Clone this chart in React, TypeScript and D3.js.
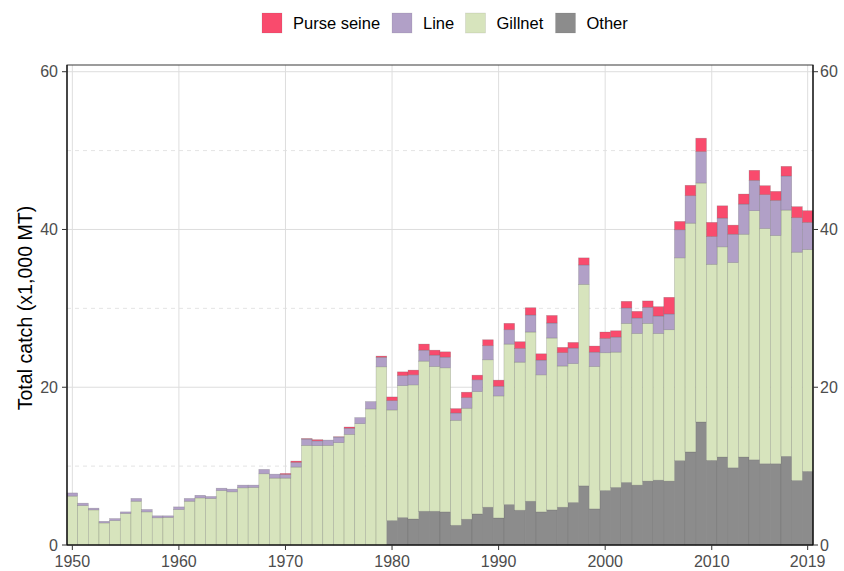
import React from "react";
import * as d3 from "d3";

const years = d3.range(1950, 2020);

const other = [
  0, 0, 0, 0, 0, 0, 0, 0, 0, 0,
  0, 0, 0, 0, 0, 0, 0, 0, 0, 0,
  0, 0, 0, 0, 0, 0, 0, 0, 0, 0,
  3.1, 3.48, 3.3, 4.28, 4.28, 4.2, 2.5, 3.27, 3.94, 4.79,
  3.43, 5.13, 4.41, 5.55, 4.2, 4.45, 4.79, 5.39, 7.5, 4.58,
  6.91, 7.3, 7.93, 7.59, 8.1, 8.22, 8.1, 10.7, 11.8, 15.6,
  10.73, 11.15, 9.79, 11.15, 10.8, 10.3, 10.3, 11.24, 8.18, 9.33,
];

const gillnet = [
  6.2, 5.0, 4.45, 2.8, 3.1, 4.0, 5.55, 4.2, 3.45, 3.5,
  4.5, 5.55, 5.97, 5.9, 6.9, 6.74, 7.25, 7.3, 9.03, 8.48,
  8.48, 9.88, 12.63, 12.59, 12.63, 12.97, 14.03, 15.38, 17.25, 22.59,
  14.02, 16.72, 17.0, 19.03, 18.35, 18.26, 13.31, 14.07, 15.51, 18.69,
  15.47, 20.34, 18.77, 21.45, 17.37, 21.79, 17.9, 17.61, 25.55, 18.05,
  17.46, 17.15, 20.17, 19.23, 20.0, 18.6, 19.19, 25.7, 29.0, 30.29,
  24.86, 26.65, 26.02, 28.25, 31.58, 29.83, 28.94, 31.22, 28.94, 28.13,
];

const line = [
  0.4, 0.3, 0.22, 0.2, 0.25, 0.2, 0.35, 0.3, 0.25, 0.2,
  0.33, 0.35, 0.33, 0.25, 0.3, 0.34, 0.34, 0.29, 0.55, 0.5,
  0.47, 0.59, 0.8, 0.61, 0.67, 0.72, 0.77, 0.77, 0.93, 1.21,
  1.18, 1.28, 1.27, 1.39, 1.44, 1.36, 0.93, 1.35, 1.49, 1.78,
  1.23, 1.82, 1.74, 2.16, 1.87, 1.9, 1.69, 1.96, 2.45, 1.82,
  1.82, 1.91, 1.95, 1.96, 2.03, 2.21, 2.0, 3.56, 3.48, 3.99,
  3.52, 3.64, 3.59, 3.82, 3.85, 4.28, 4.45, 4.32, 4.37, 3.44,
];

const purseSeine = [
  0, 0, 0, 0, 0, 0, 0, 0, 0, 0,
  0, 0, 0, 0, 0, 0, 0, 0, 0, 0,
  0.12, 0.17, 0.05, 0.15, 0, 0.03, 0.16, 0, 0, 0.15,
  0.47, 0.47, 0.6, 0.77, 0.63, 0.67, 0.55, 0.68, 0.59, 0.76,
  0.77, 0.81, 0.85, 0.92, 0.8, 0.96, 0.67, 0.72, 0.9, 0.77,
  0.81, 0.8, 0.84, 0.84, 0.81, 1.18, 2.11, 1.06, 1.32, 1.69,
  1.79, 1.56, 1.15, 1.27, 1.27, 1.14, 1.14, 1.22, 1.4, 1.48,
];

const gearKeys = ["Other", "Gillnet", "Line", "Purse seine"];
const gearColors: Record<string, string> = {
  "Purse seine": "#F94B6D",
  Line: "#B1A0C7",
  Gillnet: "#D7E4BD",
  Other: "#8C8C8C",
};

const xTicks = [1950, 1960, 1970, 1980, 1990, 2000, 2010, 2019];
const yMajor = [0, 20, 40, 60];
const yMinor = [10, 30, 50];

const W = 844;
const H = 571;
const margin = { top: 65, right: 31, bottom: 26, left: 67 };
const FONT = "'Liberation Sans', Arial, sans-serif";

export default function App() {
  const rows = years.map((yr, i) => ({
    year: yr,
    Other: other[i],
    Gillnet: gillnet[i],
    Line: line[i],
    "Purse seine": purseSeine[i],
  }));

  const series = d3.stack<any>().keys(gearKeys)(rows);

  const x = d3
    .scaleLinear()
    .domain([1949.5, 2019.5])
    .range([margin.left, W - margin.right]);
  const y = d3
    .scaleLinear()
    .domain([0, 60.85])
    .range([H - margin.bottom, margin.top]);

  const x0 = margin.left;
  const x1 = W - margin.right;
  const y0 = H - margin.bottom;
  const y1 = margin.top;

  // legend positions
  const legendItems = [
    { key: "Purse seine", x: 262 },
    { key: "Line", x: 392 },
    { key: "Gillnet", x: 465.5 },
    { key: "Other", x: 555.5 },
  ];

  return (
    <svg
      width={W}
      height={H}
      style={{ position: "absolute", left: 0, top: 0, background: "#fff" }}
      fontFamily={FONT}
    >
      {/* grid */}
      {yMinor.map((v) => (
        <line key={"mn" + v} x1={x0} x2={x1} y1={y(v)} y2={y(v)} stroke="#DDDDDD" strokeWidth={0.8} strokeDasharray="4,4" />
      ))}
      {yMajor.map((v) => (
        <line key={"mj" + v} x1={x0} x2={x1} y1={y(v)} y2={y(v)} stroke="#DEDEDE" strokeWidth={1} />
      ))}
      {xTicks.map((v) => (
        <line key={"vx" + v} x1={x(v)} x2={x(v)} y1={y0} y2={y1} stroke="#DEDEDE" strokeWidth={1} />
      ))}

      {/* bars */}
      {series.map((s) => (
        <g key={s.key} fill={gearColors[s.key]}>
          {s.map((d: any, i: number) =>
            d[1] - d[0] > 0 ? (
              <rect
                key={i}
                x={x(d.data.year - 0.5)}
                width={x(d.data.year + 0.5) - x(d.data.year - 0.5)}
                y={y(d[1])}
                height={y(d[0]) - y(d[1])}
                stroke="rgba(90,90,90,0.35)"
                strokeWidth={0.6}
              />
            ) : null
          )}
        </g>
      ))}

      {/* panel border */}
      <rect x={x0} y={y1} width={x1 - x0} height={y0 - y1} fill="none" stroke="#3a3a3a" strokeWidth={1} />
      <line x1={x0} x2={x0} y1={y1} y2={y0} stroke="#000" strokeWidth={1.1} />
      <line x1={x1} x2={x1} y1={y1} y2={y0} stroke="#000" strokeWidth={1.1} />
      <line x1={x0} x2={x1} y1={y0} y2={y0} stroke="#000" strokeWidth={1.1} />

      {/* left axis */}
      {yMajor.map((v) => (
        <g key={"ly" + v}>
          <line x1={x0 - 5} x2={x0} y1={y(v)} y2={y(v)} stroke="#333" />
          <text x={x0 - 9} y={y(v)} dy="0.35em" textAnchor="end" fontSize={16} fill="#4D4D4D">
            {v}
          </text>
        </g>
      ))}
      {/* right axis */}
      {yMajor.map((v) => (
        <g key={"ry" + v}>
          <line x1={x1} x2={x1 + 5} y1={y(v)} y2={y(v)} stroke="#333" />
          <text x={x1 + 7} y={y(v)} dy="0.35em" textAnchor="start" fontSize={16} fill="#4D4D4D">
            {v}
          </text>
        </g>
      ))}
      {/* bottom axis */}
      {xTicks.map((v) => (
        <g key={"bx" + v}>
          <line x1={x(v)} x2={x(v)} y1={y0} y2={y0 + 5} stroke="#333" />
          <text x={x(v)} y={y0 + 21.5} textAnchor="middle" fontSize={16} fill="#4D4D4D">
            {v}
          </text>
        </g>
      ))}

      {/* y title */}
      <text
        transform={`translate(31.5,308) rotate(-90)`}
        textAnchor="middle"
        fontSize={19.6}
        fill="#000"
      >
        Total catch (x1,000 MT)
      </text>

      {/* legend */}
      {legendItems.map((it) => (
        <g key={it.key}>
          <rect x={it.x} y={13} width={20} height={20} fill={gearColors[it.key]} stroke="rgba(90,90,90,0.2)" strokeWidth={0.6} />
          <text x={it.x + 31} y={29} fontSize={16.5} fill="#000">
            {it.key}
          </text>
        </g>
      ))}
    </svg>
  );
}
